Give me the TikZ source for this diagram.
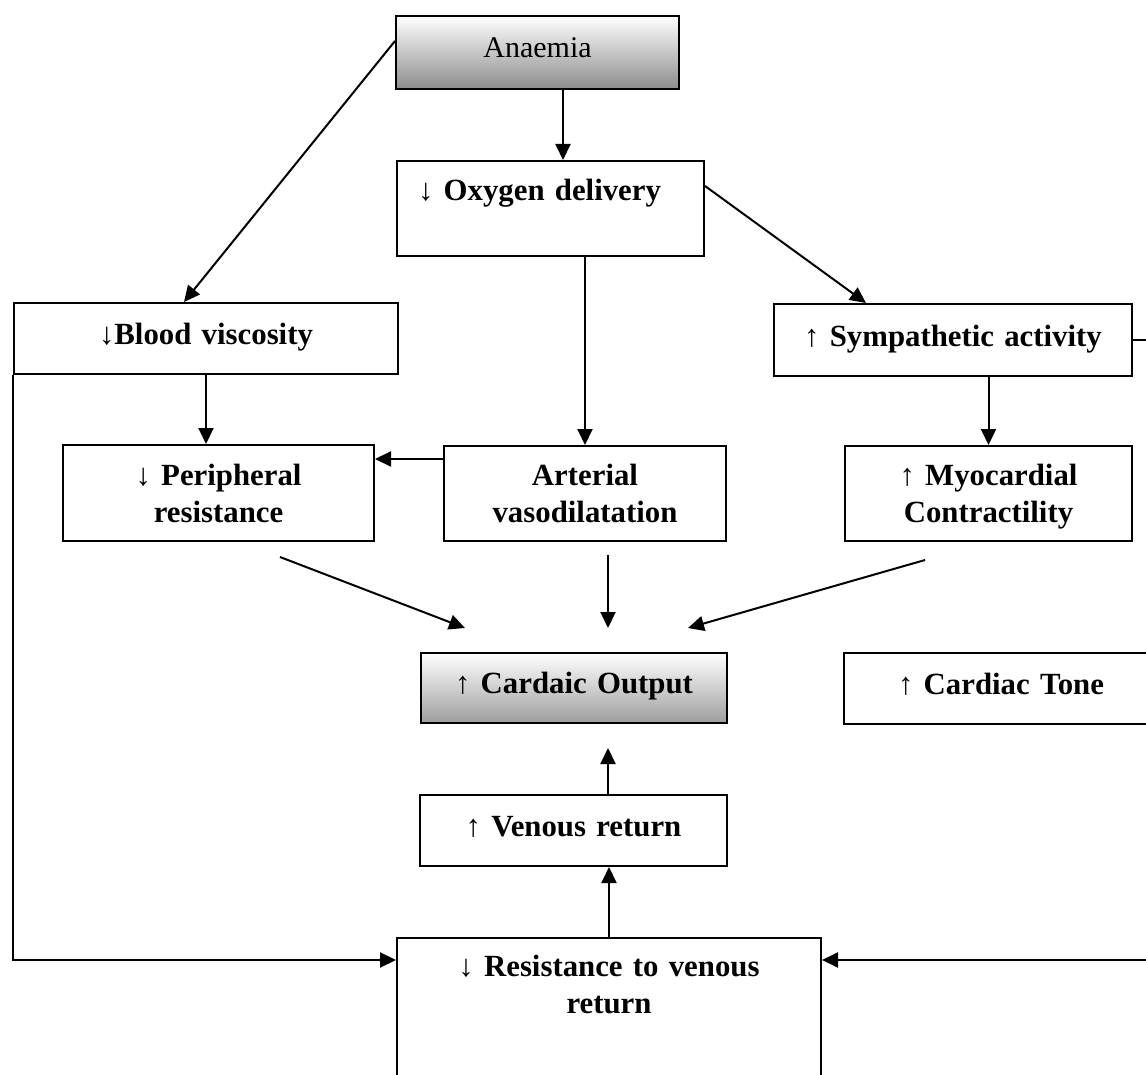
\documentclass[tikz,border=0pt]{standalone}
\usepackage{fontspec}
\setmainfont{Liberation Serif}
\usetikzlibrary{arrows.meta,calc,positioning}
\tikzstyle{box}=[draw, rectangle, line width=1pt, inner sep=0pt, align=center, anchor=north west, font=\fontsize{15.4}{18.5}\selectfont\bfseries]
\tikzstyle{shadebox}=[box, top color=white, bottom color=black!45]
\tikzstyle{arrow}=[line width=1pt, -{Triangle[length=8pt,width=7.5pt]}]
\newcommand{\incr}{{\mdseries ↑}}
\newcommand{\decr}{{\mdseries ↓}}

\begin{document}
\begin{tikzpicture}[x=0.5pt, y=-0.5pt]
    \useasboundingbox (0,0) rectangle (1146,1075);
    \clip (0,0) rectangle (1146,1075);

    \node[shadebox, font=\fontsize{15}{18.5}\selectfont, text width=141.5pt, text height=21pt, text depth=15.5pt] (anaemia) at (395,15) {Anaemia};
    \node[box, align=left, inner xsep=10.5pt, text width=132.5pt, text height=20pt, text depth=27.5pt] (oxygen) at (396,160) {\decr\ Oxygen delivery};
    \node[box, text width=192pt, text height=20.5pt, text depth=15pt] (blood) at (13,302) {\decr Blood viscosity};
    \node[box, text width=179pt, text height=21pt, text depth=15pt] (sympathetic) at (773,303) {\incr\ Sympathetic activity};

    \node[box, text width=155.5pt, text height=20pt, text depth=28pt] (peripheral) at (62,444) {\decr\ Peripheral\\resistance};
    \node[box, text width=141pt, text height=19.5pt, text depth=28pt] (arterial) at (443,445) {Arterial\\vasodilatation};
    \node[box, text width=143.5pt, text height=19.5pt, text depth=28pt] (myocardial) at (844,445) {\incr\ Myocardial\\Contractility};

    \node[shadebox, bottom color=black!38, text width=153pt, text height=20pt, text depth=15pt] (output) at (420,652) {\incr\ Cardaic Output};
    \node[box, text width=157pt, text height=20.5pt, text depth=15pt] (tone) at (843,652) {\incr\ Cardiac Tone};
    \node[box, text width=153.5pt, text height=20.5pt, text depth=15pt] (venous) at (419,794) {\incr\ Venous return};
    \node[box, text width=212pt, text height=19pt, text depth=67.5pt] (resistance) at (396,937) {\decr\ Resistance to venous\\return};

    % free arrow ends round the output box
    \foreach \pos/\name in {{(280,557)/pr-s}, {(465,628)/pr-e}, {(608,555)/av-s}, {(608,628)/av-e},
                            {(925,560)/mc-s}, {(688,628)/mc-e}, {(608,748)/vr-e}}
        \path \pos coordinate (\name);

    \draw[arrow] ([xshift=12.75pt]anaemia.south) -- ([xshift=12.75pt]anaemia.south |- oxygen.north);
    \draw[arrow] ([yshift=5.75pt]anaemia.west) -- ([xshift=-11pt]blood.north);
    \draw[arrow] ([yshift=11.25pt]oxygen.east) -- ([xshift=-43.5pt]sympathetic.north);
    \draw[arrow] (arterial.north |- oxygen.south) -- (arterial.north);
    \draw[arrow] (blood.south) -- (blood.south |- peripheral.north);
    \draw[arrow] ([yshift=17.25pt]arterial.west) -- ([yshift=17.25pt]arterial.west -| peripheral.east);
    \draw[arrow] (myocardial.north |- sympathetic.south) -- (myocardial.north);

    \draw[arrow] (pr-s) -- (pr-e);
    \draw[arrow] (av-s) -- (av-e);
    \draw[arrow] (mc-s) -- (mc-e);

    \draw[arrow] (vr-e |- venous.north) -- (vr-e);
    \draw[arrow] (resistance.north) -- (resistance.north |- venous.south);
    \draw[arrow] (blood.south west) |- ([yshift=32.25pt]resistance.west);
    \draw[arrow] (sympathetic.east) -- ++(25,0) |- ([yshift=32.25pt]resistance.east);

\end{tikzpicture}
\end{document}
